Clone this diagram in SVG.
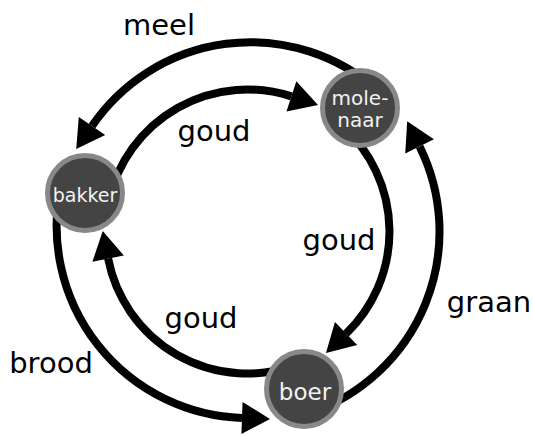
<svg xmlns="http://www.w3.org/2000/svg" width="533" height="436" viewBox="0 0 533 436">
  <style>
    .flow { fill: none; stroke: #000; stroke-width: 8; marker-end: url(#head); }
    .node circle { fill: #444; stroke: #888; stroke-width: 5; }
    .node text { fill: #f2f2f2; font-family: "DejaVu Sans", sans-serif; text-anchor: middle; }
    .lbl { fill: #000; font-family: "DejaVu Sans", sans-serif; font-size: 29px; text-anchor: middle; }
  </style>
  <defs>
    <marker id="head" markerUnits="userSpaceOnUse" markerWidth="30" markerHeight="34" refX="0" refY="16" orient="auto" overflow="visible">
      <path d="M0,0 L28,16 L0,32 Z" fill="#000"/>
    </marker>
  </defs>

  <g id="connectors">
    <!-- inner ring: gold, clockwise -->
    <path id="goud-bakker-molenaar" class="flow" d="M109.3,198.8 A142,142 0 0 1 291.4,96.4"/>
    <path id="goud-molenaar-boer" class="flow" d="M343.1,126.5 A142,142 0 0 1 346.1,333.6"/>
    <path id="goud-boer-bakker" class="flow" d="M295.4,365.2 A142,142 0 0 1 108.1,258.6"/>
    <!-- outer ring: goods, counter-clockwise -->
    <path id="meel" class="flow" d="M376.7,89.5 A192,192 0 0 0 92,126"/>
    <path id="brood" class="flow" d="M60.6,187.3 A192,192 0 0 0 242,418"/>
    <path id="graan" class="flow" d="M312.2,412.3 A192,192 0 0 0 419.6,146.4"/>
  </g>

  <g id="labels">
    <text class="lbl" x="159" y="35">meel</text>
    <text class="lbl" x="214" y="141">goud</text>
    <text class="lbl" x="339" y="250">goud</text>
    <text class="lbl" x="201" y="328">goud</text>
    <text class="lbl" x="51" y="373">brood</text>
    <text class="lbl" x="489" y="312">graan</text>
  </g>

  <g id="node-molenaar" class="node">
    <circle cx="360" cy="108" r="37.5"/>
    <text x="360" y="105" font-size="20">mole-</text>
    <text x="360" y="127" font-size="20">naar</text>
  </g>
  <g id="node-bakker" class="node">
    <circle cx="85" cy="193" r="37.5"/>
    <text x="85" y="202" font-size="19">bakker</text>
  </g>
  <g id="node-boer" class="node">
    <circle cx="304" cy="389" r="37.5"/>
    <text x="305" y="400" font-size="23">boer</text>
  </g>
</svg>
